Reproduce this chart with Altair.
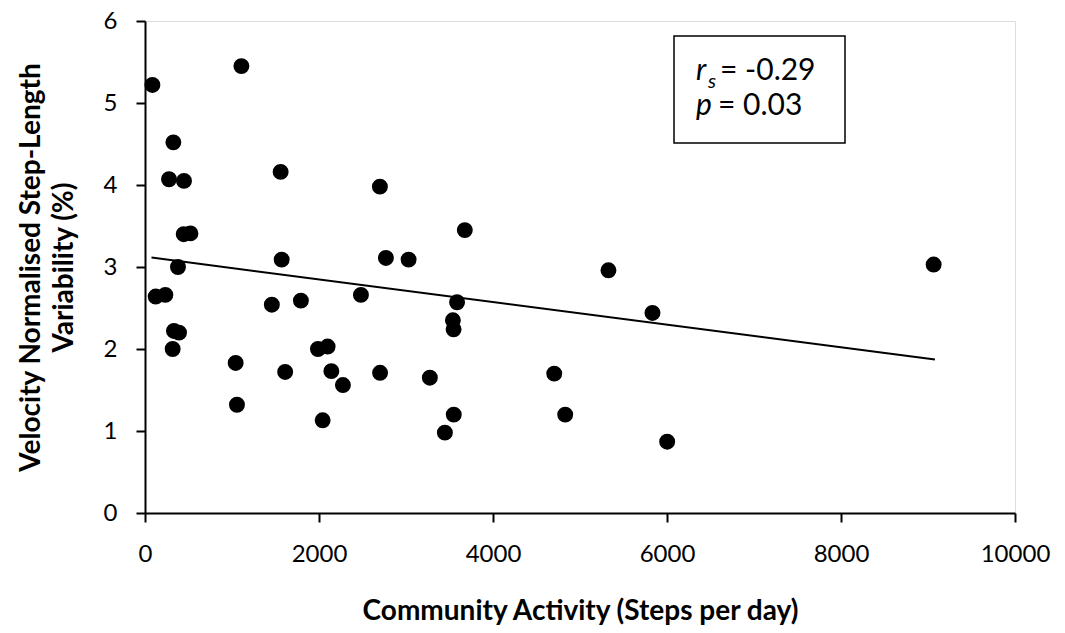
import altair as alt
import pandas as pd

# Community activity (steps/day) vs velocity-normalised step-length variability (%)
steps = [85, 1108, 326, 276, 448, 1559, 2700, 445, 522, 379,
         1571, 2769, 3030, 3676, 5327, 5833, 9065, 123, 234, 1458,
         1792, 2482, 3587, 3539, 3547, 333, 391, 318, 1042, 1611,
         1988, 2099, 2142, 2275, 2702, 3274, 4704, 1057, 2042, 3447,
         3549, 4830, 6002]
variability = [5.22, 5.45, 4.52, 4.07, 4.05, 4.16, 3.98, 3.40, 3.41, 3.00,
               3.09, 3.11, 3.09, 3.45, 2.96, 2.44, 3.03, 2.64, 2.66, 2.54,
               2.59, 2.66, 2.57, 2.35, 2.24, 2.22, 2.20, 2.00, 1.83, 1.72,
               2.00, 2.03, 1.73, 1.56, 1.71, 1.65, 1.70, 1.32, 1.13, 0.98,
               1.20, 1.20, 0.87]

# Linear trend line end points
trend_x = [75, 9080]
trend_y = [3.115, 1.872]

x_ticks = [0, 2000, 4000, 6000, 8000, 10000]
y_ticks = [0, 1, 2, 3, 4, 5, 6]

stat_r_sym = "r"
stat_r_sub = "s"
stat_r_val = "= -0.29"
stat_p_sym = "p"
stat_p_val = "= 0.03"

FONT = "Lato"

pts = pd.DataFrame({"steps": steps, "var": variability})
trend = pd.DataFrame({"steps": trend_x, "var": trend_y})

xscale = alt.Scale(domain=[0, 10000], nice=False, zero=False)
yscale = alt.Scale(domain=[0, 6], nice=False)

xaxis = alt.Axis(values=x_ticks, format="d", grid=False, title="Community Activity (Steps per day)",
                 domainColor="black", domainWidth=2, tickColor="black", tickWidth=2, tickSize=9,
                 labelFont=FONT, labelFontSize=24, labelColor="black", labelPadding=20,
                 labelFlush=False, labelOverlap=False,
                 titleFont=FONT, titleFontSize=28, titleFontWeight="bold", titleColor="black",
                 titlePadding=31)
yaxis = alt.Axis(values=y_ticks, format="d", grid=False,
                 title=["Velocity Normalised Step-Length", "Variability (%)"],
                 domainColor="black", domainWidth=2, tickColor="black", tickWidth=2, tickSize=9,
                 labelFont=FONT, labelFontSize=24, labelColor="black", labelPadding=19,
                 labelFlush=False,
                 titleFont=FONT, titleFontSize=28, titleFontWeight="bold", titleColor="black",
                 titlePadding=25, titleLineHeight=33)

points = alt.Chart(pts).mark_circle(size=254, color="black", opacity=1).encode(
    x=alt.X("steps:Q", scale=xscale, axis=xaxis),
    y=alt.Y("var:Q", scale=yscale, axis=yaxis),
)

line = alt.Chart(trend).mark_line(color="black", strokeWidth=2).encode(
    x=alt.X("steps:Q", scale=xscale),
    y=alt.Y("var:Q", scale=yscale),
)

one = alt.Data(values=[{"k": 1}])

box = alt.Chart(one).mark_rect(fill="white", stroke="black", strokeWidth=1.5).encode(
    x=alt.value(529), x2=alt.value(700), y=alt.value(15), y2=alt.value(122)
)

def txt(s, x, y, size=30, style="normal"):
    return alt.Chart(one).mark_text(text=s, align="left", baseline="alphabetic", font=FONT,
                                    fontSize=size, fontStyle=style, color="black").encode(
        x=alt.value(x), y=alt.value(y))

texts = [
    txt(stat_r_sym, 551, 59, style="italic"),
    txt(stat_r_sub, 563, 67, size=20, style="italic"),
    txt(stat_r_val, 575, 59),
    txt(stat_p_sym, 551, 94, style="italic"),
    txt(stat_p_val, 573, 94),
]

chart = alt.layer(points, line, box, *texts).properties(
    width=870, height=492,
    autosize=alt.AutoSizeParams(type="none"),
    padding={"left": 137, "top": 13, "right": 40, "bottom": 120},
).configure_view(stroke=None).configure(background="white")

chart.save("out.html", embed_options={"renderer": "svg", "actions": False})
